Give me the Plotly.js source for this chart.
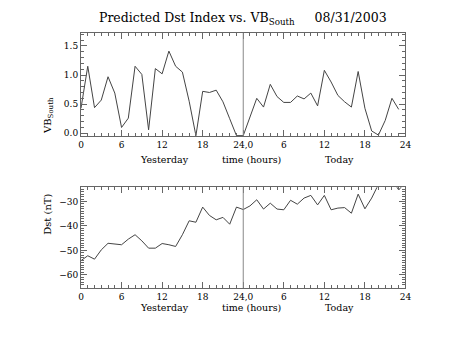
<!DOCTYPE html>
<html>
<head>
<meta charset="utf-8">
<script src="https://cdn.plot.ly/plotly-3.0.1.min.js"></script>
<style>html,body{margin:0;padding:0;background:#fff;}#chart{width:453px;height:340px;}</style>
</head>
<body>
<div id="chart"></div>
<script>
// Hours across two days (0-24 yesterday, 24-48 today)
const hoursVB = [0,1,2,3,4,5,6,7,8,9,10,11,12,13,14,15,16,17,18,19,20,21,22,23,
                 24,25,26,27,28,29,30,31,32,33,34,35,36,37,38,39,40,41,42,43,44,45,46,47];
const vbSouth = [0.43,1.15,0.44,0.57,0.97,0.69,0.10,0.26,1.15,1.01,0.06,1.11,1.02,1.41,1.15,1.05,
                 0.55,-0.04,0.72,0.70,0.74,0.54,0.25,-0.04,-0.04,0.28,0.60,0.45,0.84,0.63,0.53,0.53,
                 0.64,0.59,0.69,0.47,1.08,0.88,0.65,0.54,0.45,1.06,0.43,0.04,-0.03,0.22,0.60,0.41];
const hoursDst = [0,1,2,3,4,5,6,7,8,9,10,11,12,13,14,15,16,17,18,19,20,21,22,23,
                  24,25,26,27,28,29,30,31,32,33,34,35,36,37,38,39,40,41,42,43,44,45,46,47,48];
const dst = [-54.2,-52.2,-53.6,-49.8,-47.1,-47.5,-47.7,-45.4,-43.6,-46.1,-49.1,-49.1,-47.2,-47.7,
             -48.4,-43.6,-37.9,-38.5,-32.3,-35.7,-37.5,-36.5,-39.3,-32.3,-33.3,-31.8,-29.3,-33.1,
             -30.7,-33.1,-33.4,-29.5,-31.1,-28.6,-27.5,-31.4,-27.5,-33.4,-32.7,-32.5,-34.8,-27.0,
             -33.0,-28.6,-23.0,-19.0,-21.0,-25.3,-22.0];
const xTickVals = [0,6,12,18,24,30,36,42,48];
const xTickText = ['0','6','12','18','24,0','6','12','18','24'];
const dayBoundary = 24;
const dateLabel = '08/31/2003';

const FONT = 'DejaVu Serif';
const tickFont = {family: FONT, size: 9, color: '#000'};
const lineColor = '#444';
const axisColor = '#666';

const xBase = {
  range: [0, 48], tickvals: xTickVals, ticktext: xTickText,
  ticks: 'inside', ticklen: 6, tickcolor: axisColor, tickwidth: 1,
  minor: {dtick: 1, tick0: 0, ticks: 'inside', ticklen: 3, tickcolor: axisColor},
  showline: true, linecolor: axisColor, linewidth: 1, mirror: 'allticks',
  showgrid: false, zeroline: false, tickfont: tickFont, domain: [0.1788, 0.8951]
};

const labelFont = {family: FONT, size: 9.5, color: '#000'};

const layout = {
  width: 453, height: 340,
  margin: {l: 0, r: 0, t: 0, b: 0},
  paper_bgcolor: '#fff', plot_bgcolor: '#fff',
  showlegend: false,
  title: {text: 'Predicted Dst Index vs. VB<sub>South</sub>\u00A0\u00A0\u00A0\u00A0\u00A0' + dateLabel,
          x: 0.536, xanchor: 'center', y: 0.947, yanchor: 'middle',
          font: {family: FONT, size: 12.5, color: '#000'}},
  xaxis: Object.assign({}, xBase, {anchor: 'y'}),
  yaxis: {
    domain: [0.6, 0.9029], range: [-0.046, 1.72], dtick: 0.5, tick0: 0, tickformat: '.1f',
    ticks: 'inside', ticklen: 6, tickcolor: axisColor,
    minor: {dtick: 0.1, ticks: 'inside', ticklen: 3, tickcolor: axisColor},
    showline: true, linecolor: axisColor, linewidth: 1, mirror: 'allticks',
    showgrid: false, zeroline: false, tickfont: tickFont, anchor: 'x'
  },
  xaxis2: Object.assign({}, xBase, {anchor: 'y2'}),
  yaxis2: {
    domain: [0.1529, 0.4491], range: [-65.4, -24.2], dtick: 10, tick0: 0,
    ticks: 'inside', ticklen: 6, tickcolor: axisColor,
    minor: {dtick: 1, ticks: 'inside', ticklen: 3, tickcolor: axisColor},
    showline: true, linecolor: axisColor, linewidth: 1, mirror: 'allticks',
    showgrid: false, zeroline: false, tickfont: tickFont, anchor: 'x2'
  },
  shapes: [
    {type: 'line', xref: 'x', yref: 'y domain', x0: dayBoundary, x1: dayBoundary, y0: 0, y1: 1,
     line: {color: '#888', width: 1}},
    {type: 'line', xref: 'x2', yref: 'y2 domain', x0: dayBoundary, x1: dayBoundary, y0: 0, y1: 1,
     line: {color: '#888', width: 1}}
  ],
  annotations: [
    {text: 'VB<sub>South</sub>', xref: 'paper', yref: 'paper', x: 0.088, y: 0.66, textangle: -90,
     showarrow: false, font: {family: FONT, size: 10, color: '#000'}},
    {text: 'Dst (nT)', xref: 'paper', yref: 'paper', x: 0.088, y: 0.303, textangle: -90,
     showarrow: false, font: {family: FONT, size: 10, color: '#000'}},
    {text: 'Yesterday', xref: 'x', yref: 'paper', x: 12.4, y: 0.531, showarrow: false, font: labelFont},
    {text: 'time (hours)', xref: 'x', yref: 'paper', x: 25.2, y: 0.531, showarrow: false, font: labelFont},
    {text: 'Today', xref: 'x', yref: 'paper', x: 38.2, y: 0.531, showarrow: false, font: labelFont},
    {text: 'Yesterday', xref: 'x2', yref: 'paper', x: 12.4, y: 0.075, showarrow: false, font: labelFont},
    {text: 'time (hours)', xref: 'x2', yref: 'paper', x: 25.2, y: 0.075, showarrow: false, font: labelFont},
    {text: 'Today', xref: 'x2', yref: 'paper', x: 38.2, y: 0.075, showarrow: false, font: labelFont}
  ]
};

const traces = [
  {x: hoursVB, y: vbSouth, xaxis: 'x', yaxis: 'y', mode: 'lines', type: 'scatter',
   line: {color: lineColor, width: 1}, hoverinfo: 'skip'},
  {x: hoursDst, y: dst, xaxis: 'x2', yaxis: 'y2', mode: 'lines', type: 'scatter',
   line: {color: lineColor, width: 1}, hoverinfo: 'skip'}
];

Plotly.newPlot('chart', traces, layout, {staticPlot: true, displayModeBar: false});
</script>
</body>
</html>
